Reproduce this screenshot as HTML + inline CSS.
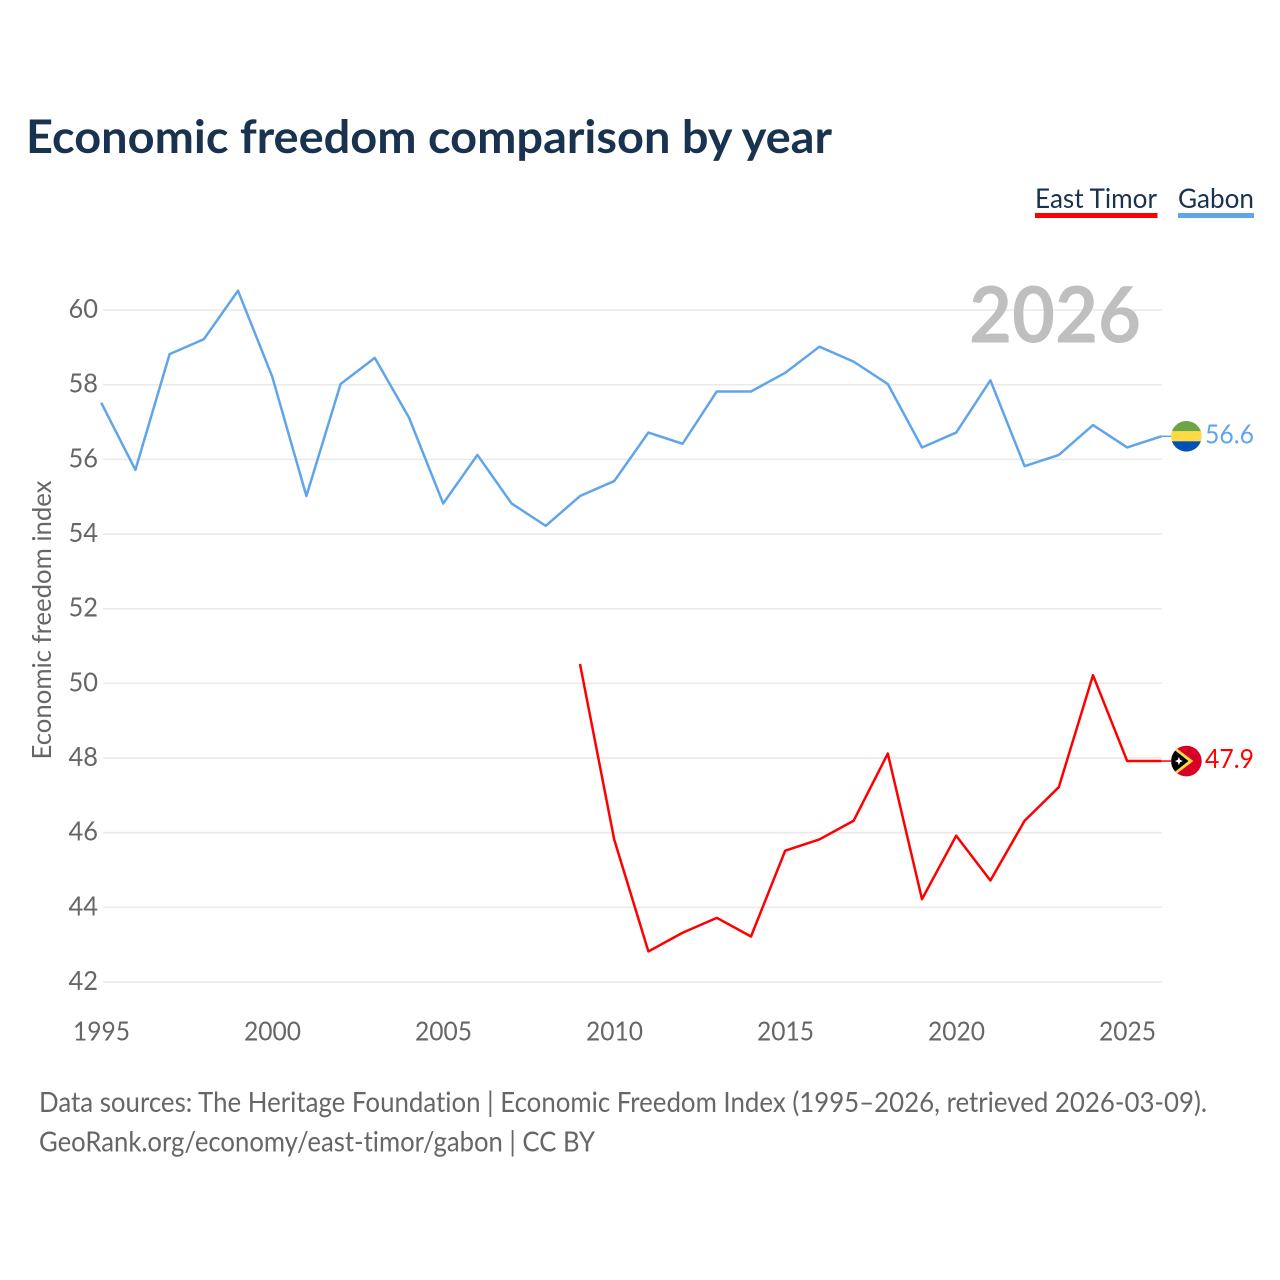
<!DOCTYPE html>
<html>
<head>
<meta charset="utf-8">
<style>
html,body{margin:0;padding:0;background:#fff}
svg{display:block}
text{font-family:"Lato","Carlito","Liberation Sans",sans-serif;font-variant-ligatures:none}
</style>
</head>
<body>
<svg id="chart" xmlns="http://www.w3.org/2000/svg" width="1280" height="1280" viewBox="0 0 1280 1280">
  <rect x="0" y="0" width="1280" height="1280" fill="#fff"/>
  <text x="26" y="153" font-size="46" font-weight="700" fill="#18324f" textLength="806" lengthAdjust="spacingAndGlyphs">Economic freedom comparison by year</text>
  <g>
    <g>
      <text x="1035" y="208" font-size="27" fill="#18324f" textLength="122" lengthAdjust="spacingAndGlyphs">East Timor</text>
      <rect x="1035" y="213" width="122.5" height="5" fill="#ff0000"/>
    </g>
    <g>
      <text x="1178" y="208" font-size="27" fill="#18324f" textLength="76" lengthAdjust="spacingAndGlyphs">Gabon</text>
      <rect x="1178" y="213" width="76" height="5" fill="#60a5ea"/>
    </g>
  </g>
  <g id="grid"></g>
  <text x="1141" y="342.5" text-anchor="end" font-size="78" font-weight="700" fill="#bfbfbf" textLength="172" lengthAdjust="spacingAndGlyphs">2026</text>
  <g id="yticks"></g>
  <g id="xticks"></g>
  <text transform="translate(51,620) rotate(-90)" text-anchor="middle" font-size="26" fill="#666" textLength="279" lengthAdjust="spacingAndGlyphs">Economic freedom index</text>
  <g id="series"></g>
  <g id="ends"></g>
  <text x="39" y="1112" font-size="28" fill="#666" textLength="1168" lengthAdjust="spacingAndGlyphs">Data sources: The Heritage Foundation | Economic Freedom Index (1995–2026, retrieved 2026-03-09).</text>
  <text x="39" y="1151.5" font-size="28" fill="#666" textLength="556" lengthAdjust="spacingAndGlyphs">GeoRank.org/economy/east-timor/gabon | CC BY</text>
</svg>
<script>
const years = [1995,1996,1997,1998,1999,2000,2001,2002,2003,2004,2005,2006,2007,2008,2009,2010,2011,2012,2013,2014,2015,2016,2017,2018,2019,2020,2021,2022,2023,2024,2025,2026];
const gabonValues = [57.5,55.7,58.8,59.2,60.5,58.2,55.0,58.0,58.7,57.1,54.8,56.1,54.8,54.2,55.0,55.4,56.7,56.4,57.8,57.8,58.3,59.0,58.6,58.0,56.3,56.7,58.1,55.8,56.1,56.9,56.3,56.6];
const eastTimorValues = [null,null,null,null,null,null,null,null,null,null,null,null,null,null,50.5,45.8,42.8,43.3,43.7,43.2,45.5,45.8,46.3,48.1,44.2,45.9,44.7,46.3,47.2,50.2,47.9,47.9];
const yTickLabels = [42,44,46,48,50,52,54,56,58,60];
const xTickLabels = [1995,2000,2005,2010,2015,2020,2025];

const NS = 'http://www.w3.org/2000/svg';
const xScale = function (year) { return 101.2 + (year - 1995) * 34.2; };
const yScale = function (value) { return 981.3 - (value - 42) * 37.33; };
const gridY = function (value) { return 982 - (value - 42) * 37.33; };

function make(tag, parent, attrs, content) {
  const el = document.createElementNS(NS, tag);
  Object.keys(attrs).forEach(function (k) { el.setAttribute(k, attrs[k]); });
  if (content !== undefined) el.textContent = content;
  parent.appendChild(el);
  return el;
}

const grid = document.getElementById('grid');
const yticks = document.getElementById('yticks');
const xticks = document.getElementById('xticks');
const seriesGroup = document.getElementById('series');
const ends = document.getElementById('ends');

yTickLabels.forEach(function (v) {
  const line = make('line', grid, {x1: 103, x2: 1162, y1: gridY(v), y2: gridY(v), stroke: '#e9e9e9', 'stroke-width': 1.5});
  
  
  const label = make('text', yticks, {x: 98, y: gridY(v) + 8, 'text-anchor': 'end', 'font-size': 26.3, fill: '#666', textLength: 29.5, lengthAdjust: 'spacingAndGlyphs'}, String(v));
  
  
});

xTickLabels.forEach(function (y) {
  const label = make('text', xticks, {x: 101.5 + (y - 1995) * 34.2, y: 1040.5, 'text-anchor': 'middle', 'font-size': 26.3, fill: '#666', textLength: 57, lengthAdjust: 'spacingAndGlyphs'}, String(y));
  
  
});

function linePath(values) {
  let d = '';
  values.forEach(function (v, i) {
    if (v === null) return;
    d += (d ? 'L' : 'M') + xScale(years[i]).toFixed(2) + ' ' + yScale(v).toFixed(2);
  });
  return d;
}

const gabonLine = make('path', seriesGroup, {d: linePath(gabonValues), fill: 'none', stroke: '#60a5ea', 'stroke-width': 2.5, 'stroke-linejoin': 'round'});



const timorLine = make('path', seriesGroup, {d: linePath(eastTimorValues), fill: 'none', stroke: '#ff0000', 'stroke-width': 2.5, 'stroke-linejoin': 'round'});



const lastX = xScale(years[years.length - 1]);
const gabonLast = gabonValues[gabonValues.length - 1];
const timorLast = eastTimorValues[eastTimorValues.length - 1];
const flagX = lastX + 25;

// Gabon end marker
const gy = yScale(gabonLast);
const gabonFlagY = gy;
const gabonConnector = make('line', ends, {x1: lastX, x2: lastX + 10, y1: gy, y2: gy, stroke: '#60a5ea', 'stroke-width': 1.5});


const gabonClip = make('clipPath', ends, {id: 'clip-gabon'});
make('circle', gabonClip, {cx: flagX, cy: gabonFlagY, r: 15.3});
const gabonFlag = make('g', ends, {'clip-path': 'url(#clip-gabon)'});


make('rect', gabonFlag, {x: flagX - 16, y: gabonFlagY - 16, width: 32, height: 11, fill: '#6da544'});
make('rect', gabonFlag, {x: flagX - 16, y: gabonFlagY - 5, width: 32, height: 10, fill: '#ffda44'});
make('rect', gabonFlag, {x: flagX - 16, y: gabonFlagY + 5, width: 32, height: 11, fill: '#0052b4'});
const gabonValueLabel = make('text', ends, {x: 1205, y: gy + 7, 'font-size': 26.3, fill: '#60a5ea', textLength: 49, lengthAdjust: 'spacingAndGlyphs'}, gabonLast.toFixed(1));



// East Timor end marker
const ty = yScale(timorLast);
const timorFlagY = ty;
const timorConnector = make('line', ends, {x1: lastX, x2: lastX + 10, y1: ty, y2: ty, stroke: '#ff0000', 'stroke-width': 1.5});


const timorClip = make('clipPath', ends, {id: 'clip-timor'});
make('circle', timorClip, {cx: flagX, cy: timorFlagY, r: 15.3});
const timorFlag = make('g', ends, {'clip-path': 'url(#clip-timor)'});


make('rect', timorFlag, {x: flagX - 16, y: timorFlagY - 16, width: 32, height: 32, fill: '#d80027'});
make('path', timorFlag, {d: 'M' + (flagX - 15) + ' ' + (timorFlagY - 16.7) + 'L' + (flagX + 7) + ' ' + timorFlagY + 'L' + (flagX - 15) + ' ' + (timorFlagY + 16.7) + 'Z', fill: '#ffda44'});
make('path', timorFlag, {d: 'M' + (flagX - 15) + ' ' + (timorFlagY - 13.6) + 'L' + (flagX + 2) + ' ' + timorFlagY + 'L' + (flagX - 15) + ' ' + (timorFlagY + 13.6) + 'Z', fill: '#000'});
make('path', timorFlag, {d: 'M' + (flagX - 7.5) + ' ' + (timorFlagY - 4) + 'L' + (flagX - 6.3) + ' ' + (timorFlagY - 1.2) + 'L' + (flagX - 3.5) + ' ' + timorFlagY + 'L' + (flagX - 6.3) + ' ' + (timorFlagY + 1.2) + 'L' + (flagX - 7.5) + ' ' + (timorFlagY + 4) + 'L' + (flagX - 8.7) + ' ' + (timorFlagY + 1.2) + 'L' + (flagX - 11.5) + ' ' + timorFlagY + 'L' + (flagX - 8.7) + ' ' + (timorFlagY - 1.2) + 'Z', fill: '#fff'});
const timorValueLabel = make('text', ends, {x: 1205, y: ty + 7, 'font-size': 26.3, fill: '#ff0000', textLength: 49, lengthAdjust: 'spacingAndGlyphs'}, timorLast.toFixed(1));


</script>
</body>
</html>
